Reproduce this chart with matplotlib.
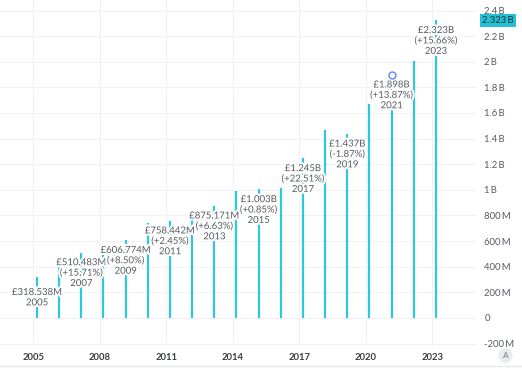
import matplotlib.pyplot as plt
import matplotlib.patheffects as pe
from matplotlib.lines import Line2D

plt.rcParams['font.family'] = ['Lato', 'DejaVu Sans']

# annual revenue, millions of GBP
years = list(range(2005, 2024))
revenue = [318.538, 441.2, 510.483, 559.2, 606.774, 740.3, 758.442, 820.8,
           875.171, 994.5, 1003.0, 1016.3, 1245.0, 1464.4, 1437.0, 1666.8,
           1898.0, 2008.5, 2323.0]

label_years = [2005, 2007, 2009, 2011, 2013, 2015, 2017, 2019, 2021, 2023]
label_values = ['£318.538M', '£510.483M', '£606.774M', '£758.442M', '£875.171M',
                '£1.003B', '£1.245B', '£1.437B', '£1.898B', '£2.323B']
label_changes = [None, '+15.71%', '+8.50%', '+2.45%', '+6.63%', '+0.85%',
                 '+22.51%', '-1.87%', '+13.87%', '+15.66%']

xtick_years = [2005, 2008, 2011, 2014, 2017, 2020, 2023]
ytick_vals = [-200, 0, 200, 400, 600, 800, 1000, 1200, 1400, 1600, 1800, 2000, 2200, 2400]
ytick_labels = ['-200\u2009M', '0', '200\u2009M', '400\u2009M', '600\u2009M', '800\u2009M',
                '1\u2009B', '1.2\u2009B', '1.4\u2009B', '1.6\u2009B', '1.8\u2009B',
                '2\u2009B', '2.2\u2009B', '2.4\u2009B']

bar_color = '#2fc7dc'
grid_color = '#f0f2f5'
text_color = '#555a62'
off = 0.16  # bars sit a bit right of the year gridline

fig = plt.figure(figsize=(5.22, 3.73), dpi=100)
ax = fig.add_axes([0, 1 - 347 / 373, 476 / 522, 347 / 373])

xs = [y + off for y in years]
ax.vlines(xs, 0, revenue, color=bar_color, lw=1.6, zorder=2)

# hover marker on 2021
i21 = years.index(2021)
ax.plot(xs[i21], revenue[i21] - 5, 'o', ms=5, mfc='white', mec='#6c8ef2', mew=1.1, zorder=5)

for yr, v, ch in zip(label_years, label_values, label_changes):
    val = revenue[years.index(yr)]
    lines = [v] + ([f'({ch})'] if ch else []) + [str(yr)]
    ax.annotate('\n'.join(lines), (yr + off, val), xytext=(0, -14.8),
                textcoords='offset points', ha='center', va='center',
                fontsize=6.9, color=text_color, linespacing=1.2, zorder=4,
                path_effects=[pe.withStroke(linewidth=3, foreground='white')])

ax.set_xlim(2003.49, 2024.97)
ax.set_ylim(-227, 2482)
ax.set_xticks(xtick_years)
ax.set_xticklabels([str(y) for y in xtick_years], fontsize=6.8, fontweight='bold', color='#3a3d44')
ax.set_yticks(ytick_vals)
ax.set_yticklabels(ytick_labels, fontsize=6.8, color=text_color)
ax.yaxis.tick_right()
ax.tick_params(axis='y', length=0, pad=6)
ax.tick_params(axis='x', length=0, pad=4)
ax.grid(True, color=grid_color, lw=0.8, zorder=0)
for s in ax.spines.values():
    s.set_visible(False)

# last value badge
ax.annotate('2.323\u2009B', (1.0, revenue[-1]), xycoords=('axes fraction', 'data'),
            xytext=(4.5, 0), textcoords='offset points', ha='left', va='center',
            fontsize=6.8, color='#10333a',
            bbox=dict(boxstyle='square,pad=0.25', fc='#25c0d4', ec='none'))

# bottom separator and auto-scale button
fig.add_artist(Line2D([0, 1], [1 - 366 / 373] * 2, color='#e6e8ec', lw=1))
fig.text(505.5 / 522, 1 - 355.5 / 373, 'A', ha='center', va='center', fontsize=6, color='#7a7f88',
         bbox=dict(boxstyle='circle,pad=0.45', fc='#e9ebf0', ec='none'))

fig.savefig('out.png', dpi=100)
